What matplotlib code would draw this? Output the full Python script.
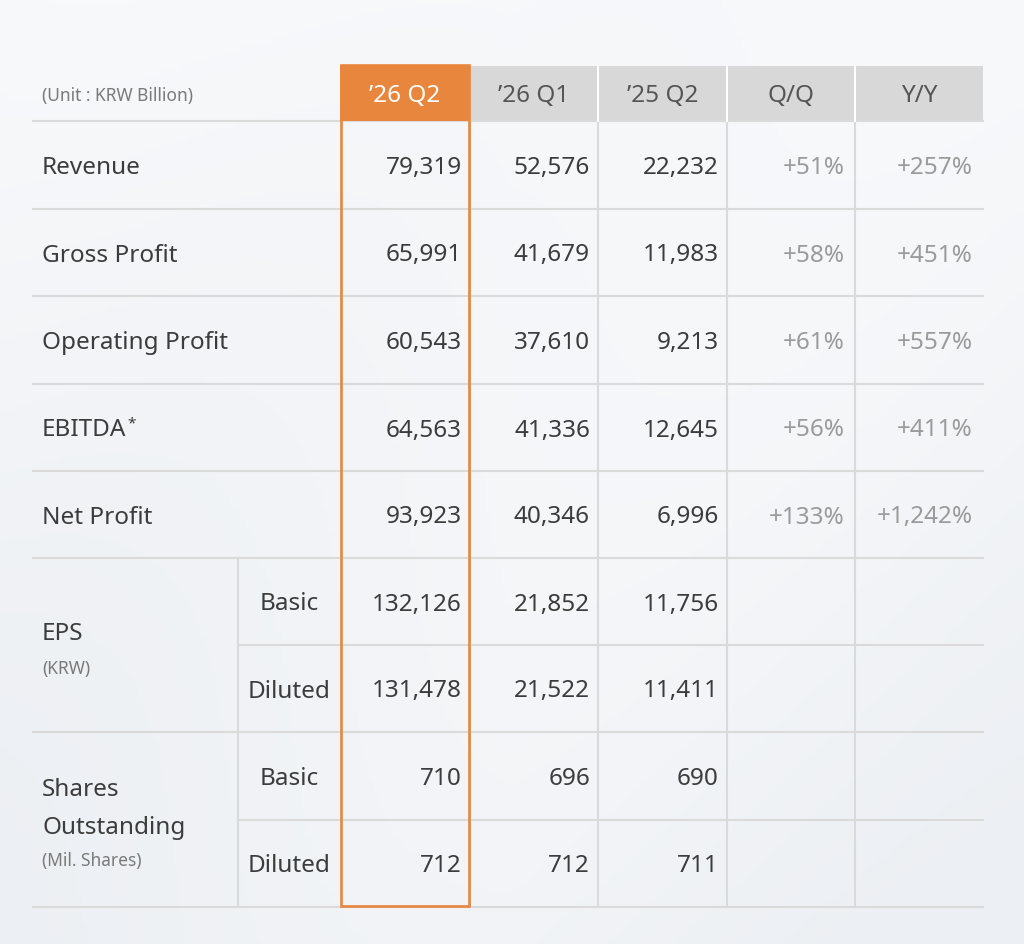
import numpy as np
import matplotlib.pyplot as plt
from matplotlib.patches import Rectangle

# table content
columns = ["\u201926 Q2", "\u201926 Q1", "\u201925 Q2", "Q/Q", "Y/Y"]
row_labels = ["Revenue", "Gross Profit", "Operating Profit", "EBITDA", "Net Profit"]
sub_labels = ["Basic", "Diluted", "Basic", "Diluted"]
q2_26 = [79319, 65991, 60543, 64563, 93923, 132126, 131478, 710, 712]
q1_26 = [52576, 41679, 37610, 41336, 40346, 21852, 21522, 696, 712]
q2_25 = [22232, 11983, 9213, 12645, 6996, 11756, 11411, 690, 711]
qoq = ["+51%", "+58%", "+61%", "+56%", "+133%"]
yoy = ["+257%", "+451%", "+557%", "+411%", "+1,242%"]

# layout (pixels)
W, H = 1024, 945
left = 33
split = 238
x_edges = [340, 470, 598, 727, 855, 983]
y_edges = [122, 210, 297, 385, 472, 559, 646, 733, 821, 908]
head_top = 67

dark = "#3c3c3c"
grey_txt = "#9a9a9a"
small_txt = "#7a7a7a"
line_c = "#dadada"
orange = "#e8863d"
font = "Noto Sans"
fs = 17.5
fs_small = 12.5

fig = plt.figure(figsize=(W / 100, H / 100), dpi=100)
ax = fig.add_axes([0, 0, 1, 1])
ax.set_xlim(0, W)
ax.set_ylim(H, 0)
ax.axis("off")

# soft background gradient
gx, gy = np.meshgrid(np.linspace(0, 1, 200), np.linspace(0, 1, 200))
g = 0.5 * gy + 0.3 * np.abs(gx - 0.5) + 0.2 * np.sin(gx * 3 + gy * 2) ** 2
cmap = plt.matplotlib.colors.LinearSegmentedColormap.from_list("bg", ["#f8f9fb", "#eceff3"])
ax.imshow(g, extent=[0, W, H, 0], cmap=cmap, aspect="auto", zorder=0)

# header
ax.add_patch(Rectangle((x_edges[1], head_top), x_edges[-1] - x_edges[1], y_edges[0] - head_top,
                       facecolor="#d8d8d8", edgecolor="none", zorder=1))
ax.add_patch(Rectangle((x_edges[0], head_top - 1), x_edges[1] - x_edges[0], y_edges[0] - head_top + 1,
                       facecolor=orange, edgecolor="none", zorder=3))
for x in x_edges[2:-1]:
    ax.plot([x, x], [head_top, y_edges[0]], color="white", lw=1.5, zorder=2)
ax.text(42, 96, "(Unit : KRW Billion)", fontsize=fs_small, color=small_txt, va="center", family=font)
for i, c in enumerate(columns):
    xc = (x_edges[i] + x_edges[i + 1]) / 2
    ax.text(xc, 96, c, fontsize=fs, ha="center", va="center", family=font,
            color="white" if i == 0 else "#555555", zorder=4)

# grid lines
for j, y in enumerate(y_edges):
    x0 = split if j in (6, 8) else left
    ax.plot([x0, x_edges[-1]], [y, y], color=line_c, lw=1.5, zorder=1)
ax.plot([split, split], [y_edges[5], y_edges[-1]], color=line_c, lw=1.5, zorder=1)
for x in x_edges[1:-1]:
    ax.plot([x, x], [y_edges[0], y_edges[-1]], color=line_c, lw=1.5, zorder=1)

# orange highlight box
ax.add_patch(Rectangle((x_edges[0] + 1, head_top - 1), x_edges[1] - x_edges[0] - 2,
                       y_edges[-1] - head_top, facecolor="none", edgecolor=orange,
                       lw=1.9, zorder=3))

centers = [(y_edges[k] + y_edges[k + 1]) / 2 + 2 for k in range(len(y_edges) - 1)]

# main row labels
for k, lab in enumerate(row_labels):
    t = ax.text(42, centers[k], lab, fontsize=fs, color=dark, va="center", family=font)
    if lab == "EBITDA":
        ax.annotate("*", xy=(1, 1), xycoords=t, xytext=(0.5, -6.5), textcoords="offset points",
                    fontsize=11, color=dark, ha="left", va="baseline", family=font)

ax.text(42, 634, "EPS", fontsize=fs, color=dark, va="center", family=font)
ax.text(42, 669, "(KRW)", fontsize=fs_small, color=small_txt, va="center", family=font)
ax.text(42, 790, "Shares", fontsize=fs, color=dark, va="center", family=font)
ax.text(42, 828, "Outstanding", fontsize=fs, color=dark, va="center", family=font)
ax.text(42, 861, "(Mil. Shares)", fontsize=fs_small, color=small_txt, va="center", family=font)

for k, lab in enumerate(sub_labels):
    ax.text((split + x_edges[0]) / 2, centers[5 + k], lab, fontsize=fs, color=dark,
            ha="center", va="center", family=font)

# values
for series, ci in ((q2_26, 1), (q1_26, 2), (q2_25, 3)):
    for k, v in enumerate(series):
        ax.text(x_edges[ci] - 8, centers[k], f"{v:,}", fontsize=fs, color=dark,
                ha="right", va="center", family=font, zorder=4)
for series, ci in ((qoq, 4), (yoy, 5)):
    for k, v in enumerate(series):
        ax.text(x_edges[ci] - 10, centers[k], v, fontsize=fs, color=grey_txt,
                ha="right", va="center", family=font)

fig.savefig("out.png", dpi=100)
